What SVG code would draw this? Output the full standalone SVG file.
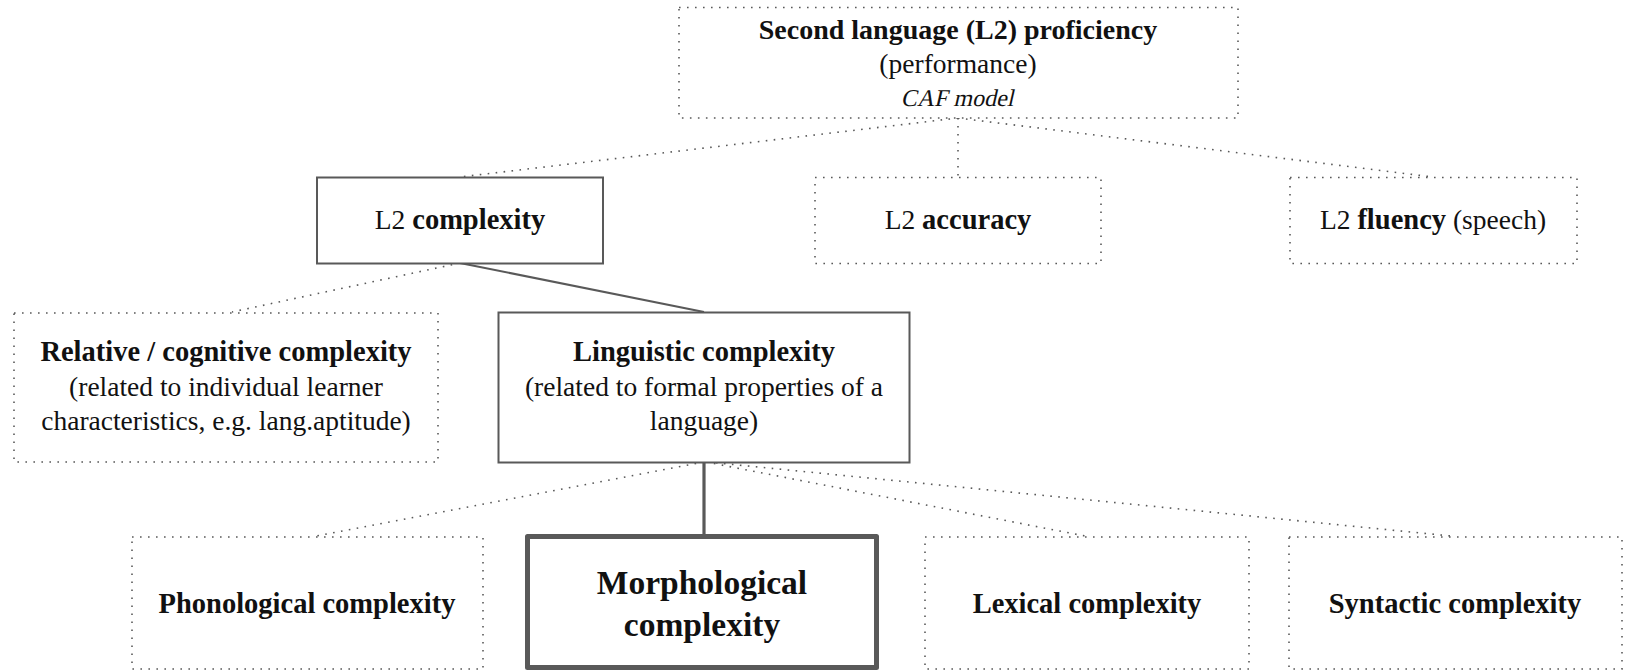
<svg xmlns="http://www.w3.org/2000/svg" width="1625" height="671" viewBox="0 0 1625 671">
<style>
  .bg { fill: #ffffff; }
  .box { fill: #ffffff; stroke: #595959; stroke-width: 2; }
  .dot { fill: #ffffff; stroke: #595959; stroke-width: 1.6; stroke-dasharray: 1.6 6.4; }
  .thick { fill: #ffffff; stroke: #595959; stroke-width: 5; stroke-linejoin: round; }
  .dl { fill: none; stroke: #595959; stroke-width: 1.6; stroke-dasharray: 1.6 6.4; }
  .sl { fill: none; stroke: #595959; stroke-width: 2; }
  .sl3 { fill: none; stroke: #595959; stroke-width: 3.2; }
  text { font-family: "Liberation Serif", "Times New Roman", serif; font-size: 27.5px; fill: #111111; text-anchor: middle; }
  .b { font-weight: bold; font-size: 28.5px; }
  .t { font-weight: bold; font-size: 28px; }
  .i { font-size: 24px; }
  .big { font-size: 33.5px; font-weight: bold; }
</style>
<rect class="bg" x="0" y="0" width="1625" height="671"/>
<g id="connectors">
  <line class="dl" x1="958" y1="118" x2="460" y2="177"/>
  <line class="dl" x1="958" y1="118" x2="958" y2="177"/>
  <line class="dl" x1="958" y1="118" x2="1433" y2="177"/>
  <line class="dl" x1="460" y1="263" x2="232" y2="312"/>
  <line class="sl" x1="460" y1="263" x2="704" y2="312"/>
  <line class="sl3" x1="704" y1="462" x2="704" y2="536"/>
  <line class="dl" x1="704" y1="462" x2="316" y2="536"/>
  <line class="dl" x1="706" y1="462" x2="1085" y2="536"/>
  <line class="dl" x1="708" y1="462" x2="1451" y2="536"/>
</g>
<g id="node-proficiency">
  <rect class="dot" x="679" y="7.5" width="559" height="110.5"/>
  <text class="t" x="958" y="39">Second language (L2) proficiency</text>
  <text x="958" y="73">(performance)</text>
  <text class="i" x="0" y="0" transform="translate(957,106) skewX(-13)">CAF model</text>
</g>
<g id="node-complexity">
  <rect class="box" x="317" y="177.5" width="286" height="86"/>
  <text x="460" y="229">L2 <tspan class="b">complexity</tspan></text>
</g>
<g id="node-accuracy">
  <rect class="dot" x="815" y="177.5" width="286" height="86"/>
  <text x="958" y="229">L2 <tspan class="b">accuracy</tspan></text>
</g>
<g id="node-fluency">
  <rect class="dot" x="1290" y="177.5" width="287" height="86"/>
  <text x="1433" y="229">L2 <tspan class="b">fluency</tspan> (speech)</text>
</g>
<g id="node-relative">
  <rect class="dot" x="14" y="313" width="424" height="149"/>
  <text class="b" x="226" y="361">Relative / cognitive complexity</text>
  <text x="226" y="396">(related to individual learner</text>
  <text x="226" y="430">characteristics, e.g. lang.aptitude)</text>
</g>
<g id="node-linguistic">
  <rect class="box" x="498.5" y="312.5" width="411" height="150"/>
  <text class="b" x="704" y="361">Linguistic complexity</text>
  <text x="704" y="396">(related to formal properties of a</text>
  <text x="704" y="430">language)</text>
</g>
<g id="node-phonological">
  <rect class="dot" x="132" y="537" width="351" height="132"/>
  <text class="b" x="307" y="613">Phonological complexity</text>
</g>
<g id="node-morphological">
  <rect class="thick" x="527.5" y="536.5" width="349" height="131"/>
  <text class="big" x="702" y="594">Morphological</text>
  <text class="big" x="702" y="636">complexity</text>
</g>
<g id="node-lexical">
  <rect class="dot" x="925" y="537" width="324" height="132"/>
  <text class="b" x="1087" y="613">Lexical complexity</text>
</g>
<g id="node-syntactic">
  <rect class="dot" x="1289" y="537" width="333" height="132"/>
  <text class="b" x="1455" y="613">Syntactic complexity</text>
</g>
</svg>
